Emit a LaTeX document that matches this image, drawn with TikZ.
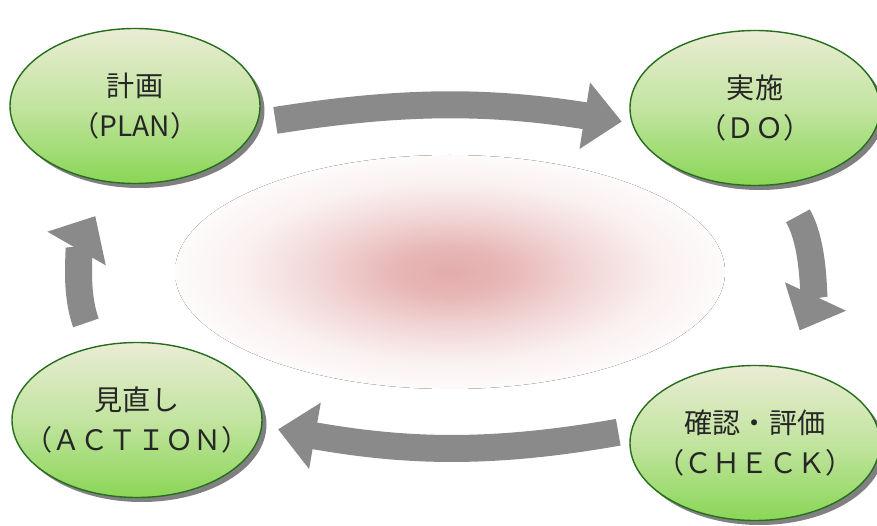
\documentclass[tikz,border=0pt]{standalone}
\usepackage{fontspec}
\newfontfamily\jpfont{Noto Sans CJK JP}
\usetikzlibrary{arrows.meta,shapes.geometric,shadows}

\definecolor{leafpale}{RGB}{234,236,212}
\definecolor{leafmid}{RGB}{194,228,160}
\definecolor{leafgreen}{RGB}{138,214,86}
\definecolor{leafline}{RGB}{38,110,30}
\definecolor{arrowgray}{RGB}{138,138,138}
\definecolor{blobpink}{RGB}{228,172,172}
\pgfdeclareradialshading{blob}{\pgfpoint{0bp}{0bp}}{color(0bp)=(blobpink); color(5bp)=(blobpink!88!white); color(12bp)=(blobpink!50!white); color(19bp)=(blobpink!18!white); color(25bp)=(blobpink!5!white); color(50bp)=(blobpink!5!white)}

\begin{document}
\begin{tikzpicture}[
	phase/.style={ellipse, draw=leafline, line width=0.8pt,
		top color=leafpale, bottom color=leafgreen, middle color=leafmid,
		minimum width=5cm, minimum height=3.1cm, inner xsep=-1cm, inner ysep=0pt,
		align=center, text=black!85, font=\jpfont\fontsize{16}{23}\selectfont,
		drop shadow={shadow xshift=0.09cm, shadow yshift=-0.09cm, fill=black!50, opacity=1}},
	cyc/.style={draw=arrowgray, line width=0.54cm, -{Triangle[width=1.3cm,length=0.75cm]}}]
	\useasboundingbox (0,0) rectangle (17.54,10.5);
	\fill[shading=blob] (9,5.06) ellipse (5.5cm and 2.34cm);

	\node[phase] (plan) at (2.7,8.38) {計画\\（PLAN）};
	\node[phase] (do) at (15.1,8.34) {実施\\（ＤＯ）};
	\node[phase] (check) at (15.1,1.64) {確認・評価\\（ＣＨＥＣＫ）};
	\node[phase] (action) at (2.74,2.1) {見直し\\（ＡＣＴＩＯＮ）};

	\draw[cyc, shorten <=0.36cm, shorten >=0.2cm] (plan.-8) to[out=9, in=171] (do.187.5);
	\draw[cyc, shorten <=0.72cm, shorten >=0.8cm] (do.-72) to[out=-60, in=65] (check.70);
	\draw[cyc, shorten <=0.26cm, shorten >=0.32cm] (check.174) to[out=190, in=-10] (action.-3);
	\draw[cyc, shorten <=0.5cm, shorten >=0.76cm] (action.120) to[out=110, in=-120] (plan.255);
\end{tikzpicture}
\end{document}
